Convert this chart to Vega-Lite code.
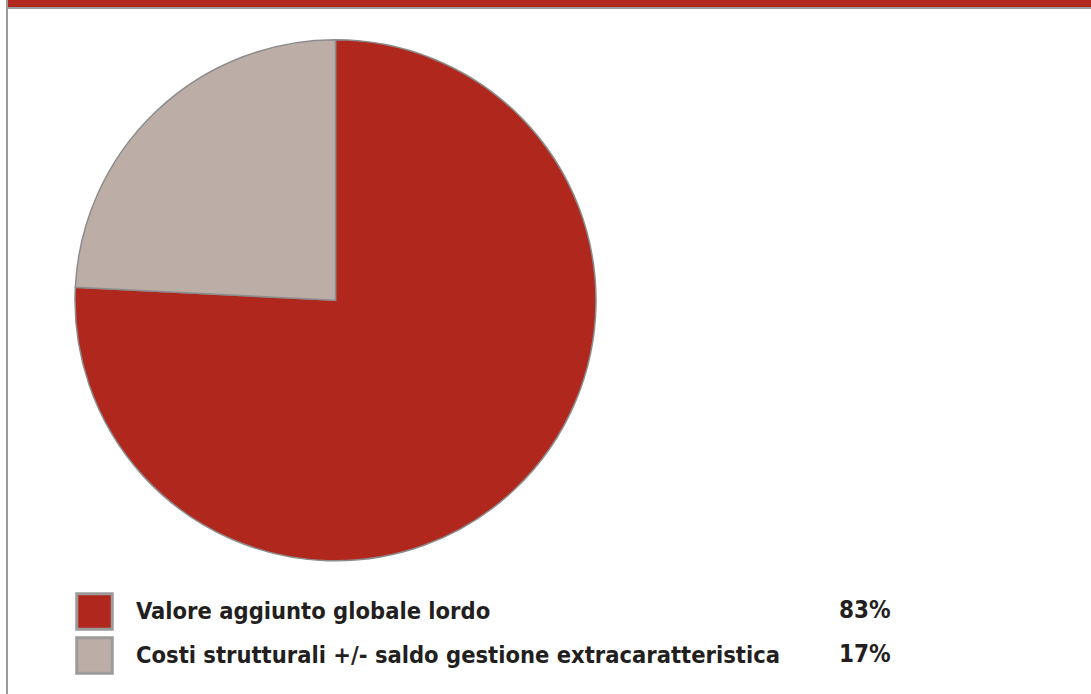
{
  "$schema": "https://vega.github.io/schema/vega-lite/v6.json",
  "padding": {"left": 6, "top": 0, "right": 0, "bottom": 0},
  "bounds": "flush",
  "spacing": 0,
  "config": {"view": {"stroke": null}, "concat": {"spacing": 0}},
  "hconcat": [
    {
      "width": 2,
      "height": 700,
      "data": {"values": [{"part": "frame"}]},
      "mark": {"type": "rect", "color": "#9b9b9b"}
    },
    {
      "spacing": 0,
      "bounds": "flush",
      "vconcat": [
        {
          "width": 1090,
          "height": 7,
          "data": {"values": [{"part": "header"}]},
          "mark": {"type": "rect", "color": "#b0281d"}
        },
        {
          "width": 1090,
          "height": 2,
          "data": {"values": [{"part": "header rule"}]},
          "mark": {"type": "rect", "color": "#9b9b9b"}
        },
        {
          "width": 655,
          "height": 582.6,
          "data": {
            "values": [
              {"category": "Valore aggiunto globale lordo", "value": 75.8, "share": "83%"},
              {"category": "Costi strutturali +/- saldo gestione extracaratteristica", "value": 24.2, "share": "17%"}
            ]
          },
          "mark": {"type": "arc", "outerRadius": 260.5, "stroke": "#8c8c8c", "strokeWidth": 1.5},
          "encoding": {
            "theta": {"field": "value", "type": "quantitative", "stack": true},
            "order": {"field": "value", "sort": "descending"},
            "color": {
              "field": "category",
              "type": "nominal",
              "scale": {
                "domain": ["Valore aggiunto globale lordo", "Costi strutturali +/- saldo gestione extracaratteristica"],
                "range": ["#b0281d", "#bcaea7"]
              },
              "legend": {
                "title": null,
                "orient": "none",
                "legendX": 69,
                "legendY": 592,
                "direction": "vertical",
                "padding": 0,
                "symbolType": "square",
                "symbolSize": 1260,
                "symbolStrokeColor": "#9b9b9b",
                "symbolStrokeWidth": 3,
                "symbolOpacity": 1,
                "labelFont": "DejaVu Sans Condensed",
                "labelFontWeight": "bold",
                "labelFontSize": 23.5,
                "labelColor": "#231f20",
                "labelOffset": 22,
                "labelLimit": 1000,
                "rowPadding": -6
              }
            },
            "opacity": {
              "field": "share",
              "type": "ordinal",
              "scale": {"domain": ["83%", "17%"], "range": [1, 1]},
              "legend": {
                "title": null,
                "orient": "none",
                "legendX": 797,
                "legendY": 593,
                "direction": "vertical",
                "padding": 0,
                "symbolType": "square",
                "symbolSize": 1260,
                "symbolFillColor": "transparent",
                "symbolStrokeColor": "transparent",
                "symbolStrokeWidth": 0,
                "labelFont": "DejaVu Sans Condensed",
                "labelFontWeight": "bold",
                "labelFontSize": 24,
                "labelColor": "#231f20",
                "labelOffset": 0,
                "labelLimit": 1000,
                "rowPadding": 8
              }
            }
          }
        }
      ]
    }
  ]
}
